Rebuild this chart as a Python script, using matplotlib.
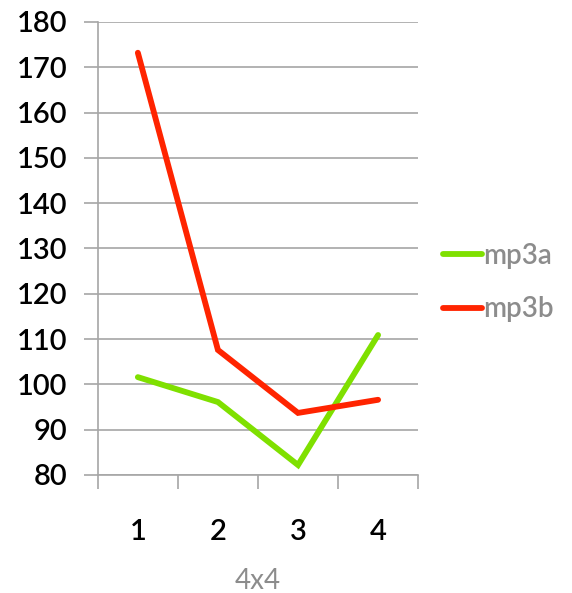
import matplotlib.pyplot as plt
from matplotlib.ticker import FixedLocator

# categories and series
groups = [1, 2, 3, 4]
mp3a = [101.6, 96.1, 82.2, 110.9]
mp3b = [173.2, 107.6, 93.7, 96.6]

plt.rcParams['font.family'] = ['Lato', 'DejaVu Sans']

fig = plt.figure(figsize=(5.72, 5.93), dpi=100)
ax = fig.add_axes([0.171, 0.199, 0.56, 0.764])

ax.plot(groups, mp3a, color='#7FE000', lw=4.2, label='mp3a', solid_capstyle='round', solid_joinstyle='miter')
ax.plot(groups, mp3b, color='#FF2400', lw=4.2, label='mp3b', solid_capstyle='round', solid_joinstyle='miter')

ax.set_xlim(0.5, 4.5)
ax.set_ylim(80, 180)
ax.set_yticks(range(80, 181, 10))
ax.yaxis.grid(True, color='#A6A6A6', lw=1.2)
ax.set_axisbelow(True)

# category labels in the middle, tick marks on the boundaries
ax.set_xticks(groups)
ax.set_xticklabels([str(g) for g in groups])
ax.xaxis.set_minor_locator(FixedLocator([0.5, 1.5, 2.5, 3.5, 4.5]))
ax.tick_params(axis='x', which='major', length=0, pad=32, labelsize=21)
ax.tick_params(axis='x', which='minor', length=10, width=1.2, color='#A6A6A6', direction='out')
ax.tick_params(axis='y', length=10, width=1.2, color='#A6A6A6', labelsize=21, pad=12)
for lab in ax.get_xticklabels() + ax.get_yticklabels():
    lab.set_fontweight('semibold')

for side in ['top', 'right']:
    ax.spines[side].set_visible(False)
for side in ['left', 'bottom']:
    ax.spines[side].set_color('#A6A6A6')
    ax.spines[side].set_linewidth(1.2)

ax.set_xlabel('4x4', color='#8C8C8C', fontsize=20, labelpad=16)

leg = ax.legend(loc='center left', bbox_to_anchor=(1.0, 0.425), frameon=False,
                handlelength=1.4, handletextpad=0.05, labelspacing=1.0,
                fontsize=20, labelcolor='#8C8C8C')
for t in leg.get_texts():
    t.set_fontweight('semibold')

fig.savefig('out.png', dpi=100)
